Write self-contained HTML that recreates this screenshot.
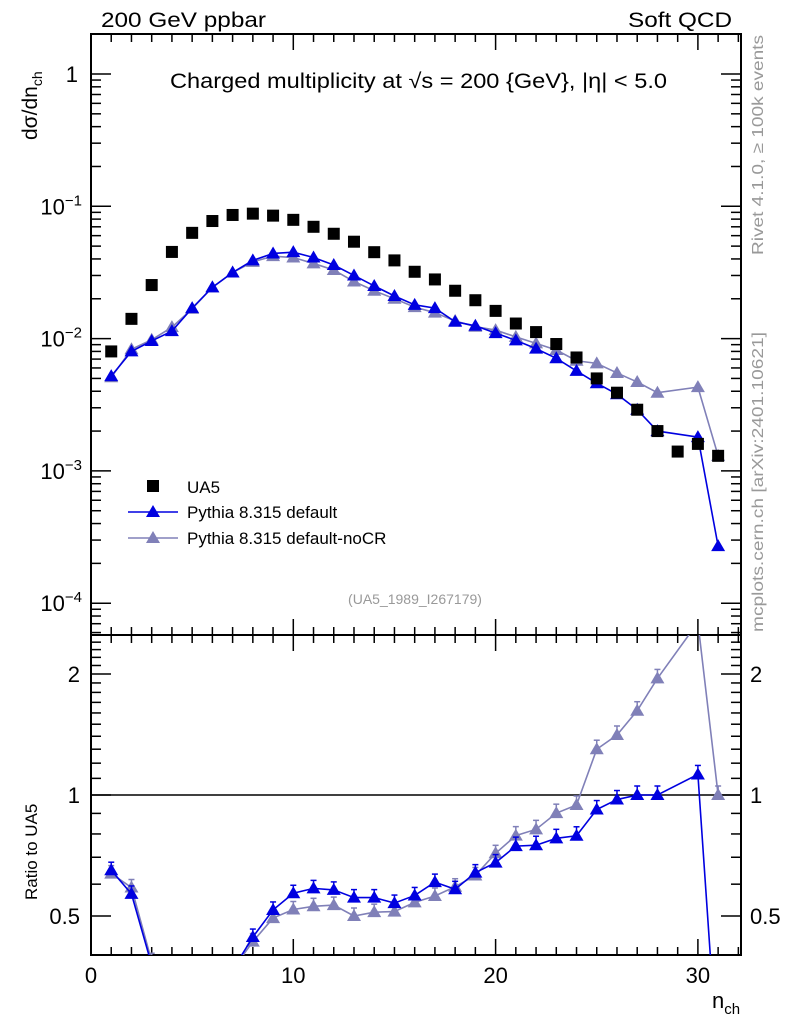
<!DOCTYPE html>
<html><head><meta charset="utf-8"><style>
html,body{margin:0;padding:0;background:#fff;width:786px;height:1024px;overflow:hidden}
svg{display:block;font-family:"Liberation Sans",sans-serif}
</style></head><body>
<svg id="chartsvg" width="786" height="1024" viewBox="0 0 786 1024">
<defs>
<clipPath id="cp1"><rect x="91" y="34" width="650" height="601"/></clipPath>
<clipPath id="cp2"><rect x="91" y="635" width="650" height="320"/></clipPath>
</defs>
<g id="plotlayer"></g>
<g id="labels">
<text x="101" y="27" font-size="21" textLength="165" lengthAdjust="spacingAndGlyphs">200 GeV ppbar</text>
<text x="732" y="27" font-size="21" text-anchor="end" textLength="104" lengthAdjust="spacingAndGlyphs">Soft QCD</text>
<text x="170" y="88" font-size="21" textLength="497" lengthAdjust="spacingAndGlyphs">Charged multiplicity at √s = 200 {GeV}, |η| &lt; 5.0</text>
<text transform="translate(37,140) rotate(-90)" font-size="21">dσ/dn<tspan font-size="14" dy="5">ch</tspan></text>
<text transform="translate(37,900) rotate(-90)" font-size="17">Ratio to UA5</text>
<text x="712" y="1008" font-size="22">n<tspan font-size="15" dy="6">ch</tspan></text>
<text transform="translate(763,255) rotate(-90)" font-size="16" fill="#999" textLength="220" lengthAdjust="spacingAndGlyphs">Rivet 4.1.0, ≥ 100k events</text>
<text transform="translate(763,632) rotate(-90)" font-size="16" fill="#999" textLength="300" lengthAdjust="spacingAndGlyphs">mcplots.cern.ch [arXiv:2401.10621]</text>
<text x="415" y="604" font-size="14" fill="#999" text-anchor="middle">(UA5_1989_I267179)</text>
<g>
<rect x="147" y="480" width="12" height="12" fill="#000"/>
<text x="187" y="493" font-size="17">UA5</text>
<line x1="128" x2="178" y1="512" y2="512" stroke="#0000e0" stroke-width="1.6"/>
<polygon points="153,505 146,517 160,517" fill="#0000e0"/>
<text x="187" y="518" font-size="17">Pythia 8.315 default</text>
<line x1="128" x2="178" y1="538" y2="538" stroke="#8080b8" stroke-width="1.6"/>
<polygon points="153,531 146,543 160,543" fill="#8080b8"/>
<text x="187" y="544" font-size="17">Pythia 8.315 default-noCR</text>
</g>
</g>
</svg>
<script>
var nchBins = [1,2,3,4,5,6,7,8,9,10,11,12,13,14,15,16,17,18,19,20,21,22,23,24,25,26,27,28,29,30,31];
var ua5Values = [0.0080,0.0141,0.0254,0.0452,0.063,0.0774,0.086,0.088,0.085,0.079,0.070,0.062,0.054,0.045,0.039,0.032,0.028,0.023,0.0195,0.0162,0.013,0.0112,0.0091,0.0072,0.0050,0.0039,0.0029,0.0020,0.0014,0.0016,0.0013];
var pythiaBins = [1,2,3,4,5,6,7,8,9,10,11,12,13,14,15,16,17,18,19,20,21,22,23,24,25,26,27,28,30,31];
var pythiaDefault = [0.0052,0.0080,0.0096,0.0114,0.0170,0.0244,0.0316,0.039,0.044,0.045,0.041,0.036,0.030,0.025,0.021,0.018,0.0170,0.0134,0.0125,0.0110,0.0097,0.0084,0.0071,0.0057,0.0046,0.0038,0.0029,0.0020,0.0018,0.00027];
var pythiaNoCR = [0.0051,0.0083,0.0098,0.0122,0.0168,0.0244,0.0316,0.038,0.042,0.041,0.037,0.033,0.027,0.023,0.020,0.0173,0.0157,0.0136,0.0123,0.0116,0.0103,0.0092,0.0082,0.0068,0.0065,0.0055,0.0047,0.0039,0.0043,0.0013];
var xTickValues = [0,10,20,30];
var yTickDecades = [-4,-3,-2,-1,0];
var ratioTickValues = [0.5,1,2];

(function(){
var NS="http://www.w3.org/2000/svg";
var root=document.getElementById('plotlayer');
function mk(t,a,p){var e=document.createElementNS(NS,t);for(var k in a){e.setAttribute(k,String(a[k]));}(p||root).appendChild(e);return e;}
var L=91,R=741,T=34,M=635,B=955;
function sx(v){return L+v*20.23;}
function sy(v){return 74-132.3*Math.log10(v);}
function ry(v){return 795-121*Math.log2(v);}

var f=mk('rect',{x:L,y:T,width:R-L,height:M-T,fill:'none',stroke:'#000','stroke-width':2});


f=mk('rect',{x:L,y:M,width:R-L,height:B-M,fill:'none',stroke:'#000','stroke-width':2});



var i,j;
for(i=0;i<=32;i++){
  var x=sx(i);var len=(i%10===0)?16:8;
  var sets=[[T,1],[M,1],[M,-1],[B,-1]];
  for(j=0;j<sets.length;j++){mk('line',{x1:x,x2:x,y1:sets[j][0],y2:sets[j][0]+sets[j][1]*len,stroke:'#000','stroke-width':1.5});}
}
xTickValues.forEach(function(v){
  var t=mk('text',{x:sx(v),y:983,'font-size':22,'text-anchor':'middle'});
  t.textContent=String(v);
  
  
});

for(var d=-5;d<=0;d++){for(var m=1;m<10;m++){
  var yv=sy(m*Math.pow(10,d));
  if(yv<T||yv>M)continue;
  var ln=(m===1)?20:10;
  mk('line',{x1:L,x2:L+ln,y1:yv,y2:yv,stroke:'#000','stroke-width':1.5});
  mk('line',{x1:R,x2:R-ln,y1:yv,y2:yv,stroke:'#000','stroke-width':1.5});
}}
yTickDecades.forEach(function(d){
  var t=mk('text',{x:(d===0?78:82),y:sy(Math.pow(10,d))+8,'font-size':22,'text-anchor':'end'});
  if(d===0){t.textContent='1';}
  else{t.textContent='10';var s=mk('tspan',{dy:-9,'font-size':15},t);s.textContent='\u2212'+Math.abs(d);}
  
  
});

[0.4,0.5,0.6,0.7,0.8,0.9,1,1.1,1.2,1.3,1.4,1.5,1.6,1.7,1.8,1.9,2,2.1,2.2,2.3,2.4,2.5].forEach(function(v){
  var y=ry(v);if(y<M||y>B)return;
  var ln=(v===0.5||v===1||v===2)?20:10;
  mk('line',{x1:L,x2:L+ln,y1:y,y2:y,stroke:'#000','stroke-width':1.5});
  mk('line',{x1:R,x2:R-ln,y1:y,y2:y,stroke:'#000','stroke-width':1.5});
});
ratioTickValues.forEach(function(v){
  [[80,'end'],[750,'start']].forEach(function(p){
    var t=mk('text',{x:p[0],y:ry(v)+8,'font-size':22,'text-anchor':p[1]});
    t.textContent=String(v);
    
    
  });
});
mk('line',{x1:L,x2:R,y1:ry(1),y2:ry(1),stroke:'#000','stroke-width':1.5});

function tri(x,y,col,g,name){
  var p=mk('polygon',{points:x+','+(y-7)+' '+(x-7)+','+(y+5)+' '+(x+7)+','+(y+5),fill:col},g);
  
  
}
function series(vals,col,name){
  var g=mk('g',{'clip-path':'url(#cp1)'});
  
  
  mk('polyline',{points:pythiaBins.map(function(n,k){return sx(n)+','+sy(vals[k]);}).join(' '),fill:'none',stroke:col,'stroke-width':1.6},g);
  pythiaBins.forEach(function(n,k){tri(sx(n),sy(vals[k]),col,g,name+'-point');});
  var g2=mk('g',{'clip-path':'url(#cp2)'});
  
  
  var rs=pythiaBins.map(function(n,k){return vals[k]/ua5Values[nchBins.indexOf(n)];});
  mk('polyline',{points:pythiaBins.map(function(n,k){return sx(n)+','+ry(rs[k]);}).join(' '),fill:'none',stroke:col,'stroke-width':1.6},g2);
  pythiaBins.forEach(function(n,k){
    var y=ry(rs[k]);var e=n>20?4:3;var x=sx(n);
    mk('line',{x1:x,x2:x,y1:y-e-5,y2:y+e,stroke:col,'stroke-width':1.5},g2);
    mk('line',{x1:x-3,x2:x+3,y1:y-e-5,y2:y-e-5,stroke:col,'stroke-width':1.5},g2);
    mk('line',{x1:x-3,x2:x+3,y1:y+e,y2:y+e,stroke:col,'stroke-width':1.5},g2);
    tri(x,y,col,g2,name+'-ratio-point');
  });
}
series(pythiaNoCR,'#8080b8','pythia-nocr');
series(pythiaDefault,'#0000e0','pythia-default');
var gu=mk('g',{'clip-path':'url(#cp1)'});


nchBins.forEach(function(n,k){
  var r=mk('rect',{x:sx(n)-6,y:sy(ua5Values[k])-6,width:12,height:12,fill:'#000'},gu);
  
  
});
})();
</script>
</body></html>
